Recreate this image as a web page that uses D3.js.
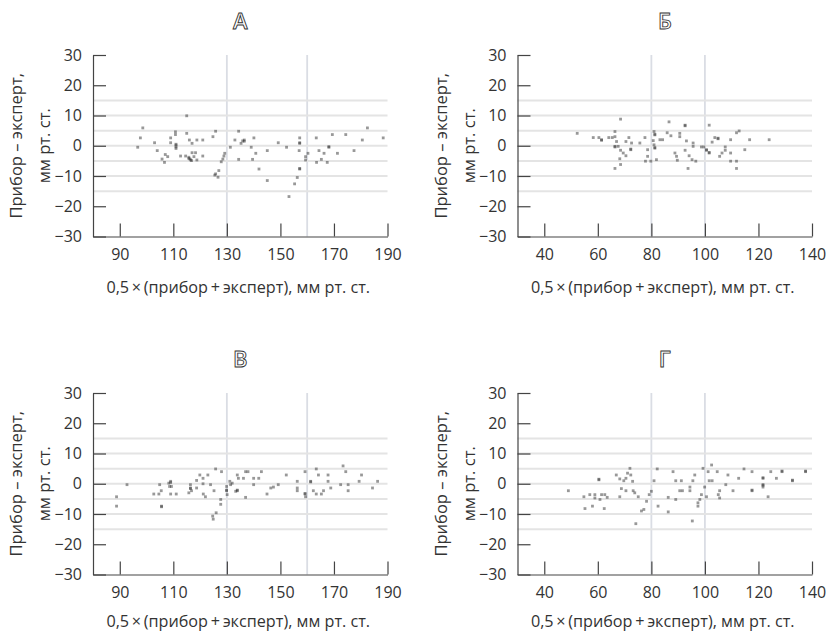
<!DOCTYPE html>
<html>
<head>
<meta charset="utf-8">
<script src="https://cdn.jsdelivr.net/npm/d3@7"></script>
<style>
  body { margin: 0; background: #fff; }
  svg text { font-family: "Open Sans", sans-serif; }
</style>
</head>
<body>
<script>
// panel titles
var titles = ["А", "Б", "В", "Г"];

// tick labels / reference lines
var yTicks = [-30, -20, -10, 0, 10, 20, 30];
var refLines = [-15, -10, -5, 0, 5, 10, 15];
var xTicksLeft = [90, 110, 130, 150, 170, 190];
var xTicksRight = [40, 60, 80, 100, 120, 140];
var vLinesLeft = [130, 160];
var vLinesRight = [80, 100];

var yTitle1 = "Прибор – эксперт,";
var yTitle2 = "мм рт. ст.";
var xTitle = "0,5\u2009×\u2009(прибор\u2009+\u2009эксперт), мм рт. ст.";

// panel A
var aX = [98.6, 97.7, 96.7, 103, 104, 105.8, 106.7, 107, 107.9, 109, 109, 110.8, 110.8, 111, 111, 111, 111, 115, 115,
  112.7, 114.6, 115.8, 115.8, 116.2, 116.5, 116.8, 117, 117.7, 116, 117, 118.8, 121, 118.8, 121, 118.3, 124.8, 125.8,
  125.8, 126.7, 125.5, 127, 127.9, 128.5, 128.9, 129.2, 131.3, 133, 134.4, 135.3, 135.9, 136.5, 136.5, 134.4, 139.1,
  140.1, 139.6, 140.8, 142, 145.1, 145.1, 149.2, 152.3, 153.2, 155.3, 156.3, 157.2, 157.2, 157.2, 157.2, 157.2, 157,
  159.4, 159.4, 160.3, 163.4, 164.4, 163.5, 165.3, 166.3, 167.5, 168.1, 168.1, 169.4, 171.3, 174.4, 177.5, 180.6,
  182.5, 188.4];
var aY = [5.9, 2.6, -0.5, 1, -1.6, -4.4, -5.5, -2.9, -3.6, 2.6, 1, 4.6, 3.7, 0.2, -0.9, 0.5, -0.4, 9.9, 4.1,
  -3.4, -3.4, -4.2, -3.8, -4.4, -4.7, -4.9, -2.3, -3.6, 1.9, 0.8, 1.9, 1.9, -4.7, -3.4, -2.3, 3, 4.8,
  -9.3, -10.4, -9.7, -8.2, -5.3, -4.4, -3.4, -2.5, -0.5, 1.9, 4.8, 0.8, 1.6, 1.9, 1.5, -4.5, -0.5,
  2.6, -4.5, -2.5, -7.7, -1.6, -11.5, 1, -0.5, -16.8, -12.6, -10.5, -7.7, -7.5, 2.6, 0.8, 1.0, -1.6,
  -3.6, -4.7, -2.5, 2.6, -1.6, -5.5, -4.5, -2.5, -5.5, -0.5, -0.3, 3.7, -2.5, 3.7, -1.6, 1.9,
  5.9, 2.6];

// panel Б
var bX = [52.3, 58.3, 60.4, 61.4, 61.4, 64.1, 65.4, 66.4, 66.4, 68.5, 67, 66.4, 66.4, 67.6, 68.5, 69.5, 70.5, 68.2,
  68.5, 66.4, 70.5, 71.6, 72.3, 72.3, 72.6, 75.7, 77.6, 78.6, 78.6, 77.8, 79.8, 81, 81.3, 81.3, 80.7, 81, 81.3, 81.3,
  81.9, 83.2, 84.2, 85.9, 86.6, 87.3, 90.6, 90.6, 92.6, 92.6, 88.8, 89.4, 89.7, 93.1, 92.6, 93.7, 94.1, 95.2, 96.6,
  95.6, 95.6, 98.7, 99.6, 100.6, 100.6, 101.6, 101.6, 101.6, 102.7, 103.7, 104.9, 104.9, 105.5, 106.4, 107.6, 107.6,
  109.6, 109.6, 109.6, 111.8, 111.8, 111.8, 112.8, 114.9, 116.7, 124];
var bY = [4.1, 2.7, 2.7, 2, 1.8, 2.7, 2.7, 3, 4.7, 8.8, 1.4, -0.4, -0.2, -0.2, -1.5, -2.4, -3.3, -4.3,
  -6.2, -7.5, 1.4, 2.7, -1.3, -1.1, 0.9, 0.9, 2.7, -1.3, -3.5, -5.1, -5.1, 4.7, 3.8, 3.6, 1.7, 0.3, -0.8, -0.6,
  -4.6, 2, 2, 4.3, 7.9, 3.3, 4.1, 3, 6.8, 6.6, -2.4, -3.5, -4.8, 1.6, -1.5, -7.5, -3.3, -4.6, -5.1,
  0.9, -0.2, -0.4, -0.4, -1.5, -1.3, -2.4, -2.2, 6.8, 1.2, 2.7, 2.5, 2.3, -3.5, -2.4, -1.5, -0.4,
  2, -2.4, -5.1, 4.3, -5.1, -7.5, 4.9, -1.3, 2, 2];

// panel В
var vX = [88.8, 88.8, 92.7, 102.7, 104.6, 105.5, 104.9, 105.6, 105.6, 108.3, 109, 109, 108.6, 109.3, 109, 111.1,
  115.8, 116.4, 116.4, 116.4, 116.8, 118.7, 118.7, 119.9, 121.1, 121.1, 121.2, 122, 122.9, 123.9, 125.2, 125.8, 128,
  126, 124.9, 124.7, 127.7, 127.7, 129.9, 129.9, 129.9, 130.1, 131.1, 131.4, 132, 133.9, 133.9, 133.3, 133.9, 134.3,
  136.2, 137, 137.9, 137, 140, 140, 141.9, 142.9, 145, 146.4, 147.4, 149.2, 152.2, 156.3, 156.3, 156.3, 159.2,
  159.2, 159.2, 159.4, 161.3, 161.3, 162.3, 163.4, 164.2, 163.4, 165.3, 166.1, 167.8, 167.8, 168.8, 172.5, 173.4,
  174.4, 175.3, 175.3, 180.3, 179.4, 184.4, 186.3];
var vY = [-4.3, -7.4, -0.3, -3.4, -3.4, -2.3, -0.3, -7.4, -7.6, 0.2, 0.8, 0.4, -0.9, -0.9, -3.4, -3.4,
  -3, -1.4, -1.6, -0.3, -2.3, 1.1, -1.4, 2.9, 1.8, 0, -3.4, -4.3, 2.9, -0.3, -2.3, 4.9, 4,
  -9.6, -11.7, -10.7, -5.2, -6.8, -2.3, -2.1, -0.9, -3.6, 0.8, -0.3, 0.2, -2.3, -2.1, -2.5, 2.9, 1.8,
  1.8, 4, 4, -4.5, 1.8, -0.3, 1.8, 4, -3.4, -1.4, -1.1, -0.3, 2.9, 0.8, -1.4, -2.3, 4,
  -3.4, -3.2, -4.3, 0.8, 0.6, -2.3, 4.9, 2.9, -3.4, -3.4, -2.3, 2.9, 0.8, -1.4, -0.3, 5.9,
  4, -0.3, -2.3, 2.9, 0.8, -1.4, 0.8];

// panel Г
var gX = [49, 54.8, 55.2, 57, 58, 58.9, 58.9, 60.4, 60.4, 60.8, 61.4, 62.4, 62.6, 63.5, 66.9, 68.2, 68.2, 68.8, 69.7,
  70.5, 70.5, 71.1, 72, 72.3, 73, 73.2, 73.8, 75.1, 76.3, 77.2, 78.2, 79.2, 80, 74.2, 81, 82.2, 82.5, 86.3, 86.3,
  89.1, 89.1, 91.2, 90.6, 88.1, 91.6, 94.4, 94.4, 95.3, 95.5, 96.2, 97.4, 97.4, 98.1, 98.7, 99.3, 99.9, 100.6, 101.2,
  101.6, 102.5, 102.7, 104.6, 105, 105.5, 105.5, 107.8, 108.6, 110.5, 112.6, 114.6, 117.6, 117.6, 117.6, 121.7,
  121.7, 121.7, 121.7, 121.7, 123.6, 124.6, 126.7, 128.8, 128.8, 132.7, 132.7, 137.6, 137.6];
var gY = [-2.3, -4.3, -8.2, -3.6, -7.4, -3.6, -4.7, 1.3, 1.5, -5.2, -3.6, -8.2, -3.6, -4.5, 2.9, 1.6, -4.3, -1.6, 1,
  1.8, -2.3, 3.5, 5.1, 2.9, 0.8, -2.3, -3, -4.3, -9, -8.5, -5.8, -3.6, -2.5, -13.2, 1, 4.9, -7.4, -4.5, -9.3,
  1, -5.2, 1, -2.3, 4, -2.3, -1.1, -2.3, -12.3, 1, 2.9, -7.4, -6.3, -5.2, -3.6, 5.1, -1.1, -4.3, 4,
  1, 6.2, 1, 4, -3.6, -2.3, -4.7, -0.3, 2.9, -2.3, 1.8, 4.9, 4, -2.3, -2.1, 1.8,
  2.0, -0.3, -0.5, -1.1, -4.3, 4, 1.8, 4, 4.2, 1, 1.2, 4, 4.2];

var panels = [
  {title: titles[0], xs: aX, ys: aY, left: 93, top: 55, domain: [80, 190], ticks: xTicksLeft, vlines: vLinesLeft, tOff: 56},
  {title: titles[1], xs: bX, ys: bY, left: 517.5, top: 55, domain: [30, 140], ticks: xTicksRight, vlines: vLinesRight, tOff: 56},
  {title: titles[2], xs: vX, ys: vY, left: 93, top: 393, domain: [80, 190], ticks: xTicksLeft, vlines: vLinesLeft, tOff: 52.5},
  {title: titles[3], xs: gX, ys: gY, left: 517.5, top: 393, domain: [30, 140], ticks: xTicksRight, vlines: vLinesRight, tOff: 52.5}
];

var pw = 294.5, ph = 181.5;

var svg = d3.select("body").append("svg")
  .attr("width", 828)
  .attr("height", 632);

// soft look for the dots
svg.append("defs").append("filter")
  .attr("id", "soft")
  .append("feGaussianBlur")
  .attr("stdDeviation", 0.45);

panels.forEach(function(p) {
  var g = svg.append("g").attr("transform", "translate(" + p.left + "," + p.top + ")");

  var x = d3.scaleLinear().domain(p.domain).range([0, pw]);
  var y = d3.scaleLinear().domain([-30, 30]).range([ph, 0]);

  // title letter (outlined)
  g.append("text")
    .attr("x", pw / 2)
    .attr("y", -26)
    .attr("text-anchor", "middle")
    .style("font-size", "22px")
    .style("font-weight", "600")
    .attr("fill", "#fff")
    .attr("stroke", "#333")
    .attr("stroke-width", 0.9)
    .text(p.title);

  // vertical reference lines
  g.selectAll(".vline")
    .data(p.vlines)
    .enter()
    .append("line")
    .attr("x1", function(d) { return x(d); })
    .attr("x2", function(d) { return x(d); })
    .attr("y1", 0)
    .attr("y2", ph)
    .attr("stroke", "#dadde4")
    .attr("stroke-width", 1.8);

  // horizontal reference lines
  g.selectAll(".hline")
    .data(refLines)
    .enter()
    .append("line")
    .attr("x1", 0)
    .attr("x2", pw)
    .attr("y1", function(d) { return y(d); })
    .attr("y2", function(d) { return y(d); })
    .attr("stroke", "#e4e4e4")
    .attr("stroke-width", 2);

  // points
  g.append("g")
    .attr("filter", "url(#soft)")
    .selectAll("rect")
    .data(p.xs)
    .enter()
    .append("rect")
    .attr("x", function(d) { return x(d) - 1.4; })
    .attr("y", function(d, i) { return y(p.ys[i]) - 1.4; })
    .attr("width", 2.8)
    .attr("height", 2.8)
    .attr("fill", "#333")
    .attr("fill-opacity", 0.5);

  // axes
  var yAxis = d3.axisLeft(y).tickValues(yTicks).tickSize(-13).tickSizeOuter(0).tickPadding(11);
  var xAxis = d3.axisBottom(x).tickValues(p.ticks).tickSize(-13).tickSizeOuter(0).tickPadding(12);

  var ya = g.append("g").call(yAxis);
  var xa = g.append("g").attr("transform", "translate(0," + ph + ")").call(xAxis);

  [ya, xa].forEach(function(a) {
    a.selectAll("path, line").attr("stroke", "#444").attr("stroke-width", 1.2);
    a.selectAll("text").attr("fill", "#333").style("font-size", "16px")
      .style("font-family", "'Open Sans', sans-serif");
  });

  // axis titles
  g.append("text")
    .attr("x", pw / 2 - 2)
    .attr("y", ph + p.tOff)
    .attr("text-anchor", "middle")
    .attr("fill", "#333")
    .style("font-size", "16.2px")
    .text(xTitle);

  g.append("text")
    .attr("transform", "translate(-71," + (ph / 2) + ") rotate(-90)")
    .attr("text-anchor", "middle")
    .attr("fill", "#333")
    .style("font-size", "16.5px")
    .text(yTitle1);

  g.append("text")
    .attr("transform", "translate(-43," + (ph / 2) + ") rotate(-90)")
    .attr("text-anchor", "middle")
    .attr("fill", "#333")
    .style("font-size", "16.5px")
    .text(yTitle2);
});
</script>
</body>
</html>
